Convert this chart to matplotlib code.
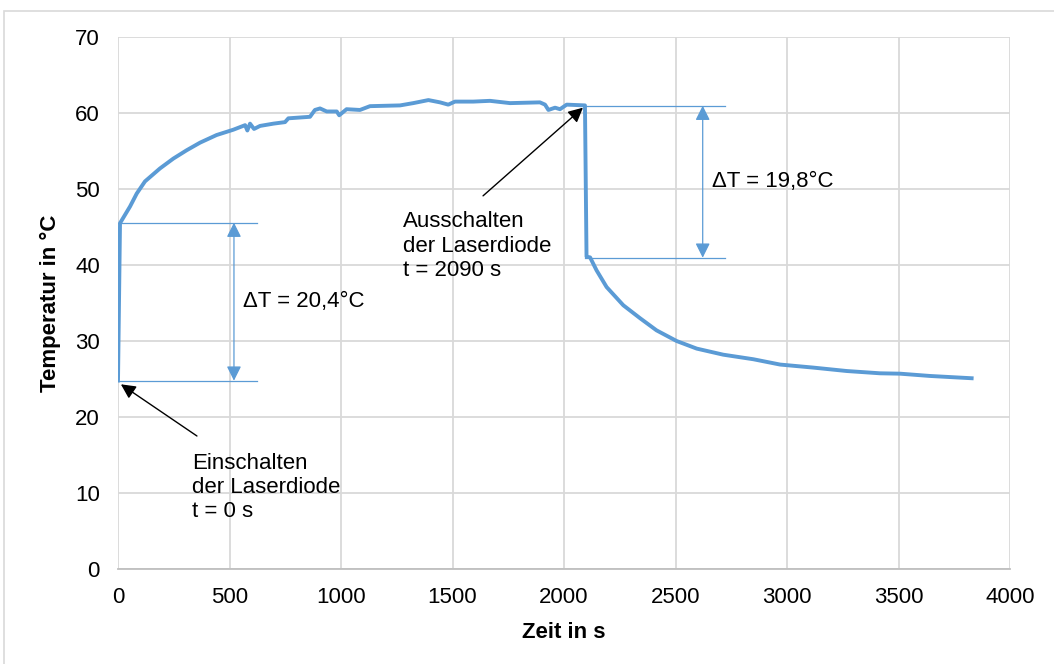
import matplotlib
matplotlib.use("Agg")
import matplotlib.pyplot as plt
from matplotlib.patches import Rectangle

plt.rcParams['font.family'] = ['Liberation Sans', 'DejaVu Sans']

# temperature curve (time in s, temperature in deg C)
zeit = [0, 9, 54, 84, 121, 188, 248, 308, 368, 442, 517, 570, 580, 592, 610,
        637, 697, 749, 764, 861, 883, 906, 936, 981, 992, 1025, 1085, 1130,
        1265, 1324, 1392, 1444, 1481, 1511, 1593, 1668, 1758, 1892, 1915,
        1930, 1960, 1982, 2012, 2094, 2101, 2117, 2146, 2191, 2266, 2341,
        2415, 2505, 2595, 2714, 2849, 2969, 3118, 3268, 3417, 3507, 3641, 3828]
temperatur = [24.8, 45.5, 47.7, 49.4, 51.0, 52.7, 54.0, 55.1, 56.1, 57.1, 57.8,
              58.4, 57.7, 58.6, 57.9, 58.3, 58.6, 58.8, 59.3, 59.5, 60.4, 60.6,
              60.2, 60.2, 59.7, 60.5, 60.4, 60.9, 61.0, 61.3, 61.7, 61.4, 61.1,
              61.5, 61.5, 61.6, 61.3, 61.4, 61.1, 60.4, 60.7, 60.5, 61.1, 61.0,
              41.1, 41.0, 39.3, 37.1, 34.7, 33.0, 31.4, 30.0, 29.0, 28.2, 27.6,
              26.9, 26.5, 26.05, 25.75, 25.7, 25.4, 25.1]

# delta-T markers: (t_start, t_end, t_arrow, T_low, T_high, label)
dt_ein = (0, 622, 520, 24.78, 45.57, "\u0394T = 20,4°C")
dt_aus = (2094, 2722, 2622, 40.96, 60.96, "\u0394T = 19,8°C")

xticks = list(range(0, 4001, 500))
yticks = list(range(0, 71, 10))

blau = '#5B9BD5'
grid_c = '#D9D9D9'

fig = plt.figure(figsize=(10.54, 6.64), dpi=100)
fig.patches.append(Rectangle((4 / 1054, -0.1), 1.2, 1.1 - 11 / 664, transform=fig.transFigure,
                             fill=False, edgecolor=grid_c, linewidth=1.2))
ax = fig.add_axes([118 / 1054, 1 - 569 / 664, (1010 - 118) / 1054, (569 - 37) / 664])

ax.set_xlim(0, 4000)
ax.set_ylim(0, 70)
ax.set_xticks(xticks)
ax.set_yticks(yticks)
ax.grid(True, color=grid_c, linewidth=1.3)
ax.set_axisbelow(True)
for s in ['top', 'right', 'left']:
    ax.spines[s].set_visible(False)
ax.spines['bottom'].set_color('#BFBFBF')
ax.spines['bottom'].set_linewidth(1.3)
ax.tick_params(length=0, labelsize=16, pad=13, colors='black')

ax.plot(zeit, temperatur, color=blau, linewidth=2.8, solid_joinstyle='round', zorder=3)

for t0, t1, ta, lo, hi, txt in [dt_ein, dt_aus]:
    ax.plot([t0, t1], [lo, lo], color=blau, linewidth=0.9)
    ax.plot([t0, t1], [hi, hi], color=blau, linewidth=0.9)
    ax.annotate('', xy=(ta, lo), xytext=(ta, hi),
                arrowprops=dict(arrowstyle='<|-|>', color=blau, lw=0.9,
                                mutation_scale=22, shrinkA=0, shrinkB=0))
    ax.text(ta + 40, (lo + hi) / 2, txt, fontsize=16, va='center', ha='left')

ax.annotate('', xy=(13, 24.3), xytext=(354, 17.5),
            arrowprops=dict(arrowstyle='-|>', color='black', lw=1.0,
                            mutation_scale=22, shrinkA=0, shrinkB=0))
ax.annotate('', xy=(2085, 60.7), xytext=(1637, 49.1),
            arrowprops=dict(arrowstyle='-|>', color='black', lw=1.0,
                            mutation_scale=22, shrinkA=0, shrinkB=0))

ax.text(332, 10.7, "Einschalten\nder Laserdiode\nt = 0 s", fontsize=16,
        va='center', ha='left', linespacing=1.2)
ax.text(1278, 42.5, "Ausschalten\nder Laserdiode\nt = 2090 s", fontsize=16,
        va='center', ha='left', linespacing=1.2)

ax.set_xlabel("Zeit in s", fontsize=16, fontweight='bold', labelpad=10)
ax.set_ylabel("Temperatur in °C", fontsize=16, fontweight='bold', labelpad=10)

fig.savefig('out.png', dpi=100, facecolor='white')
